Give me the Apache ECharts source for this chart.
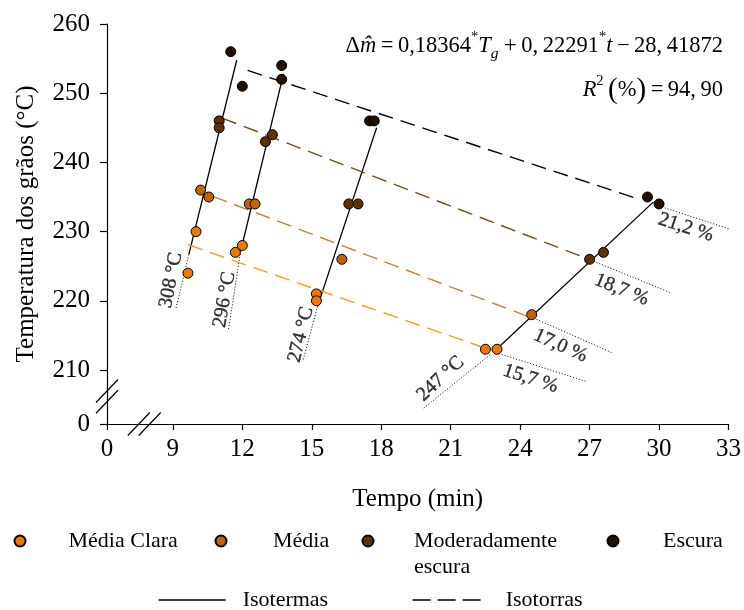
<!DOCTYPE html>
<html><head><meta charset="utf-8">
<script src="https://cdn.jsdelivr.net/npm/echarts@6/dist/echarts.min.js"></script>
<style>html,body{margin:0;padding:0;background:#fff}#c{width:744px;height:610px}</style>
</head><body><div id="c"></div>
<script>
// ---------- data ----------
const roastNames = ['Média Clara', 'Média', 'Moderadamente escura', 'Escura'];
const mediaClara = [[9.65,224],[10,230],[11.7,227],[12,228],[15.2,221],[15.2,220],[22.5,213],[23,213]];
const media = [[10.2,236],[10.55,235],[12.3,234],[12.55,234],[16.3,226],[24.5,218]];
const moderadamenteEscura = [[11,246],[11,245],[13,243],[13.3,244],[16.6,234],[17,234],[27,226],[27.6,227]];
const escura = [[11.5,256],[12,251],[13.7,254],[13.7,252],[17.5,246],[17.7,246],[29.5,235],[30,234]];

// isothermal lines (solid) and their dotted extensions
const isotermaLabels = ['308 °C', '296 °C', '274 °C', '247 °C'];
const isotermas = [
  [[9.69,226.7],[11.76,254.8]],
  [[11.93,227.2],[13.78,252.8]],
  [[15.25,219.2],[17.8,245]],
  [[22.98,213],[29.76,234.3]]
];
const isotermasExt = [
  [[9.69,226.7],[9.12,218.7]],
  [[11.93,227.2],[11.4,215.8]],
  [[15.25,219.2],[14.63,211.5]],
  [[22.7,212.2],[19.8,204.4]]
];
// iso-roast lines (dashed) and their dotted extensions
const isotorraLabels = ['15,7 %', '17,0 %', '18,7 %', '21,2 %'];
const isotorras = [
  [[9.66,228.1],[22.29,213.4]],
  [[10.72,235.1],[24.3,217.8]],
  [[11.13,246.4],[26.82,226.2]],
  [[12.23,253.3],[29.12,234.7]]
];
const isotorrasExt = [
  [[23.08,212.4],[26.89,208.3]],
  [[24.59,217.5],[27.97,212.5]],
  [[27.18,225.7],[30.55,221.1]],
  [[30.0,233.7],[33.57,229.8]]
];

const xTicks = [9, 12, 15, 18, 21, 24, 27, 30, 33];
const yTicks = [210, 220, 230, 240, 250, 260];

// ---------- layout / style (kept apart from data) ----------
const xZero = 6.155;   // broken axis: where the "0" tick of x sits
const yZero = 202.2;   // broken axis: where the "0" tick of y sits
const isotermaLabelAt = [[8.92,222.98],[11.23,220.16],[14.53,215.1],[20.56,208.74]];
const isotermaLabelAngle = [79, 80, 76, 43];
const isotorraLabelAt = [[24.45,208.74],[25.74,213.5],[28.38,221.6],[31.16,230.6]];
const isotorraLabelAngle = [-18, -24, -22, -18];
const xBreakMarks = [[7.53, yZero], [8.0, yZero]];
const yBreakMarks = [[xZero, 206.97], [xZero, 205.42]];

const roastColors = ['#F07800', '#C46400', '#5C3200', '#211000'];
const torraColors = ['#F0A020', '#C8803A', '#7A4A10', '#000000'];
const FONT = 'Liberation Serif';

const scatterData = [mediaClara, media, moderadamenteEscura, escura];

const series = [];
isotermas.forEach(function (seg) {
  series.push({type: 'line', name: 'Isotermas', data: seg, symbol: 'none', silent: true, z: 3,
    itemStyle: {color: '#000'},
    lineStyle: {color: '#000', width: 1.3}});
});
isotorras.forEach(function (seg, i) {
  series.push({type: 'line', name: 'Isotorras', data: seg, symbol: 'none', silent: true, z: 3,
    itemStyle: {color: torraColors[i]},
    lineStyle: {color: torraColors[i], width: 1.4, type: [15, 8]}});
});
isotermasExt.concat(isotorrasExt).forEach(function (seg) {
  series.push({type: 'line', name: 'ext', data: seg, symbol: 'none', silent: true, z: 2, clip: false,
    itemStyle: {color: '#000'},
    lineStyle: {color: '#000', width: 1, type: [1, 2]}});
});
scatterData.forEach(function (d, i) {
  series.push({type: 'scatter', name: roastNames[i], data: d, symbol: 'circle', symbolSize: 10, z: 5,
    itemStyle: {color: roastColors[i], borderColor: '#000', borderWidth: 1, opacity: 1}});
});
// rotated annotations
series.push({
  type: 'scatter', name: 'labels', symbolSize: 0, silent: true, z: 6,
  data: isotermaLabelAt.map(function (p, i) {
    return {value: p, label: {formatter: isotermaLabels[i], rotate: isotermaLabelAngle[i]}};
  }).concat(isotorraLabelAt.map(function (p, i) {
    return {value: p, label: {formatter: isotorraLabels[i], rotate: isotorraLabelAngle[i]}};
  })),
  label: {show: true, position: [0, 0], align: 'center', verticalAlign: 'middle',
    fontFamily: FONT, fontSize: 20, color: '#000',
    textBorderColor: '#000', textBorderWidth: 0.35}
});
// axis break marks "//"
series.push({
  type: 'custom', name: 'breaks', silent: true, clip: false, z: 7,
  data: xBreakMarks.concat(yBreakMarks),
  renderItem: function (params, api) {
    const p = api.coord([api.value(0), api.value(1)]);
    return {type: 'line', shape: {x1: p[0] - 11, y1: p[1] + 11.5, x2: p[0] + 11, y2: p[1] - 11.5},
      style: {stroke: '#000', lineWidth: 1.2}};
  }
});

const baseText = {fontFamily: FONT, fontSize: 22, color: '#000'};
const baseLegend = {orient: 'horizontal', padding: 0, itemGap: 0, selectedMode: false, textStyle: baseText};
function legend(name, left, top, extra) {
  return Object.assign({}, baseLegend, {data: [name], left: left, top: top}, extra);
}
const hiddenSymbol = {color: 'rgba(0,0,0,0)', borderWidth: 0, opacity: 0};

const EQ = 22.5;
const richBase = {
  n: {fontFamily: FONT, fontSize: EQ, fontWeight: 'normal', color: '#000', lineHeight: 32},
  o: {fontFamily: FONT, fontSize: EQ, fontWeight: 'normal', color: '#000', lineHeight: 32, padding: [0, 4.5, 0, 4.5]},
  i: {fontFamily: FONT, fontSize: EQ, fontWeight: 'normal', fontStyle: 'italic', color: '#000', lineHeight: 32},
  s: {fontFamily: FONT, fontSize: 14.5, fontWeight: 'normal', color: '#000', lineHeight: 14, verticalAlign: 'top'},
  sub: {fontFamily: FONT, fontSize: 15.5, fontWeight: 'normal', fontStyle: 'italic', color: '#000', lineHeight: 12, verticalAlign: 'bottom', padding: [0, 1, 0, 0]},
  b: {fontFamily: FONT, fontSize: 29, fontWeight: 'normal', color: '#000', lineHeight: 32}
};

const option = {
  animation: false,
  backgroundColor: '#fff',
  grid: {left: 107, right: 14, top: 24, bottom: 186, containLabel: false},
  title: [
    {
      right: 21, top: 30, padding: 0,
      text: '{n|Δ}{i|m\u0302}{o|=}{n|0,18364}{s|*}{i|T}{sub|g}{o|+}{n|0,\u200922291}{s|*}{i|t}{o|−}{n|28,\u200941872}',
      textStyle: {fontWeight: 'normal', rich: richBase}
    },
    {
      right: 21, top: 74, padding: 0,
      text: '{i|R}{s|2}{n|\u2009}{b|(}{n|%}{b|)}{o|=}{n|94,\u200990}',
      textStyle: {fontWeight: 'normal', rich: richBase}
    }
  ],
  legend: [
    legend('Média Clara', 13.5, 530, {itemWidth: 11, itemHeight: 11,
      textStyle: Object.assign({}, baseText, {padding: [0, 0, 0, 38]})}),
    legend('Média', 214.5, 530, {itemWidth: 11, itemHeight: 11,
      textStyle: Object.assign({}, baseText, {padding: [0, 0, 0, 41.5]})}),
    legend('Moderadamente escura', 361.5, 502, {itemWidth: 11, itemHeight: 11,
      formatter: function (n) { return '\n' + n.replace(' escura', '\nescura'); },
      textStyle: Object.assign({}, baseText, {lineHeight: 26, padding: [0, 0, 0, 35.5]})}),
    legend('Escura', 606.5, 530, {itemWidth: 11, itemHeight: 11,
      textStyle: Object.assign({}, baseText, {padding: [0, 0, 0, 39.5]})}),
    Object.assign({}, baseLegend, {left: 158, top: 589, itemWidth: 67, itemHeight: 14,
      data: [{name: 'Isotermas', itemStyle: hiddenSymbol, lineStyle: {color: '#000', width: 1.3}}],
      textStyle: Object.assign({}, baseText, {padding: [0, 0, 0, 12]})}),
    Object.assign({}, baseLegend, {left: 412, top: 589, itemWidth: 70, itemHeight: 14,
      data: [{name: 'Isotorras', itemStyle: hiddenSymbol, lineStyle: {color: '#000', type: [18, 7], width: 1.3}}],
      textStyle: Object.assign({}, baseText, {padding: [0, 0, 0, 18]})})
  ],
  xAxis: {
    type: 'value', min: xZero, max: 33,
    name: 'Tempo (min)', nameLocation: 'middle', nameGap: 63,
    nameTextStyle: {fontFamily: FONT, fontSize: 25, color: '#000'},
    axisLine: {show: true, lineStyle: {color: '#000', width: 1.2}},
    axisTick: {show: true, length: 6, customValues: [xZero].concat(xTicks), lineStyle: {color: '#000', width: 1.2}},
    axisLabel: {customValues: [xZero].concat(xTicks), margin: 13, fontFamily: FONT, fontSize: 25, color: '#000',
      formatter: function (v) { return v < xTicks[0] ? '0' : String(v); }},
    splitLine: {show: false}
  },
  yAxis: {
    type: 'value', min: yZero, max: 260,
    name: 'Temperatura dos grãos (°C)', nameLocation: 'middle', nameGap: 68,
    nameTextStyle: {fontFamily: FONT, fontSize: 25, color: '#000'},
    axisLine: {show: true, lineStyle: {color: '#000', width: 1.2}},
    axisTick: {show: true, length: 7, customValues: [yZero].concat(yTicks), lineStyle: {color: '#000', width: 1.2}},
    axisLabel: {customValues: [yZero].concat(yTicks), margin: 17, fontFamily: FONT, fontSize: 25, color: '#000',
      formatter: function (v) { return v < yTicks[0] ? '0' : String(v); }},
    splitLine: {show: false}
  },
  series: series
};

const chart = echarts.init(document.getElementById('c'), null, {renderer: 'canvas'});
chart.setOption(option);
</script>
</body></html>
